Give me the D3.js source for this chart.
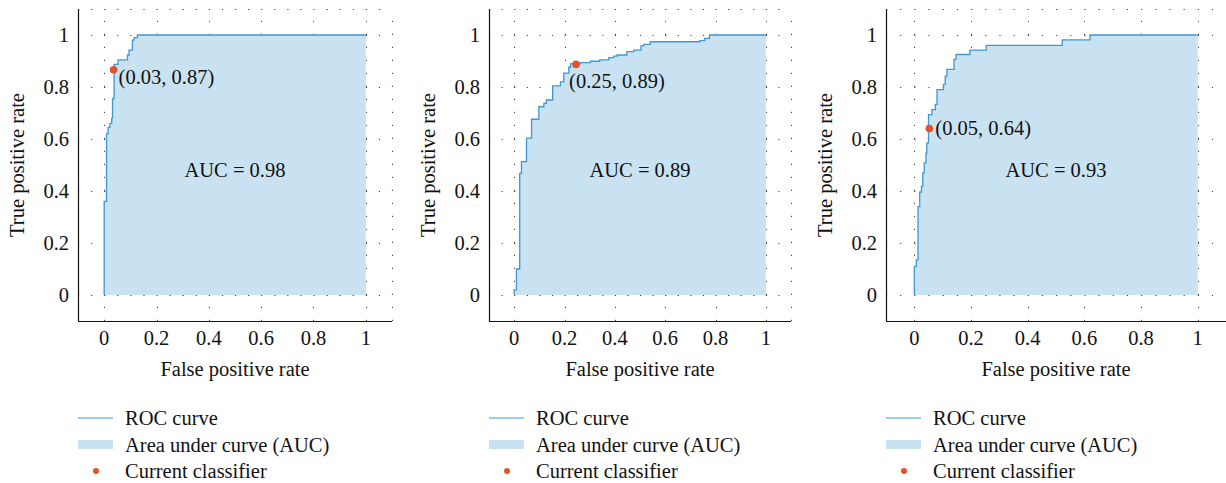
<!DOCTYPE html>
<html><head><meta charset="utf-8">
<script src="https://cdn.jsdelivr.net/npm/d3@7"></script>
<style>
html,body{margin:0;padding:0;background:#fff;}
svg{display:block;}
text{font-family:"Liberation Serif","Times New Roman",serif;fill:#111;}
</style></head>
<body>
<svg id="c" width="1226" height="483"></svg>
<script>
// ---- data ----
const fpr1 = [0, 0, 0.009, 0.015, 0.022, 0.029, 0.032, 0.038, 0.053, 0.089, 0.095, 0.108, 0.114, 0.127, 1];
const tpr1 = [0, 0.36, 0.62, 0.645, 0.66, 0.68, 0.755, 0.887, 0.904, 0.923, 0.942, 0.98, 0.99, 1, 1];

const fpr2 = [0, 0, 0.009, 0.022, 0.029, 0.049, 0.069, 0.098, 0.118, 0.128, 0.153, 0.184, 0.197, 0.217, 0.224, 0.263, 0.303, 0.34, 0.376, 0.396, 0.409, 0.448, 0.475, 0.504, 0.515, 0.541, 0.737, 0.757, 0.776, 1];
const tpr2 = [0, 0.02, 0.10, 0.468, 0.513, 0.603, 0.676, 0.724, 0.737, 0.75, 0.804, 0.82, 0.853, 0.876, 0.89, 0.894, 0.899, 0.904, 0.913, 0.919, 0.923, 0.936, 0.942, 0.958, 0.964, 0.974, 0.978, 0.987, 1, 1];

const fpr3 = [0, 0, 0.007, 0.013, 0.019, 0.025, 0.030, 0.035, 0.041, 0.044, 0.050, 0.062, 0.074, 0.080, 0.103, 0.109, 0.115, 0.140, 0.147, 0.196, 0.254, 0.522, 0.620, 1];
const tpr3 = [0, 0.11, 0.135, 0.34, 0.396, 0.418, 0.47, 0.508, 0.546, 0.585, 0.694, 0.713, 0.733, 0.79, 0.81, 0.842, 0.868, 0.906, 0.925, 0.942, 0.96, 0.981, 1, 1];

const aucValues = [0.98, 0.89, 0.93];
const classifierX = [0.036, 0.246, 0.053];
const classifierY = [0.866, 0.887, 0.64];
const classifierLabels = ["(0.03, 0.87)", "(0.25, 0.89)", "(0.05, 0.64)"];
const tickValues = [0, 0.2, 0.4, 0.6, 0.8, 1];
const tickLabels = ["0", "0.2", "0.4", "0.6", "0.8", "1"];
const legendLabels = ["ROC curve", "Area under curve (AUC)", "Current classifier"];
const xTitle = "False positive rate";
const yTitle = "True positive rate";

// ---- layout ----
const panels = [
  {fpr: fpr1, tpr: tpr1, x0: 78, x1: 392, lab: {dx: 5, dy: 14}},
  {fpr: fpr2, tpr: tpr2, x0: 489, x1: 791, lab: {dx: -7, dy: 24}},
  {fpr: fpr3, tpr: tpr3, x0: 886, x1: 1226, lab: {dx: 6, dy: 6}}
];
const yTop = 9, yBot = 321;
const lineColor = "#3f97d3", fillColor = "#c9e2f2", dotColor = "#e0532b";
const FS = 20.5;

const svg = d3.select("#c");

panels.forEach((p, i) => {
  const x = d3.scaleLinear().domain([-0.1, 1.1]).range([p.x0, p.x1]);
  const y = d3.scaleLinear().domain([-0.1, 1.1]).range([yBot, yTop]);
  const g = svg.append("g");
  const ux = x(0.05) - x(0);
  const uy = y(0) - y(0.05);

  // dotted grid
  const gridVals = tickValues.concat([1.1]);
  g.selectAll(".hg").data(gridVals).enter().append("line")
    .attr("x1", x(-0.1)).attr("x2", x(1.1))
    .attr("y1", d => Math.round(y(d)) + 0.5).attr("y2", d => Math.round(y(d)) + 0.5)
    .attr("stroke", "#444").attr("stroke-width", 1)
    .attr("stroke-dasharray", `1.2,${(ux - 1.2).toFixed(2)}`);
  g.selectAll(".vg").data(gridVals).enter().append("line")
    .attr("y1", y(-0.1)).attr("y2", y(1.1))
    .attr("x1", d => Math.round(x(d)) + 0.5).attr("x2", d => Math.round(x(d)) + 0.5)
    .attr("stroke", "#444").attr("stroke-width", 1)
    .attr("stroke-dasharray", `1.2,${(uy - 1.2).toFixed(2)}`);

  const pts = p.fpr.map((f, k) => [f, p.tpr[k]]);
  const area = d3.area().curve(d3.curveStepAfter)
    .x(d => x(d[0])).y0(y(0)).y1(d => y(d[1]));
  g.append("path").datum(pts).attr("d", area).attr("fill", fillColor);
  const line = d3.line().curve(d3.curveStepAfter).x(d => x(d[0])).y(d => y(d[1]));
  g.append("path").datum(pts).attr("d", line).attr("fill", "none")
    .attr("stroke", lineColor).attr("stroke-width", 1.3);

  // axes lines
  g.append("line").attr("x1", x(-0.1) + 0.5).attr("x2", x(-0.1) + 0.5)
    .attr("y1", y(1.1)).attr("y2", y(-0.1) + 0.5).attr("stroke", "#111").attr("stroke-width", 1.2);
  g.append("line").attr("x1", x(-0.1)).attr("x2", x(1.1))
    .attr("y1", y(-0.1) + 0.5).attr("y2", y(-0.1) + 0.5).attr("stroke", "#111").attr("stroke-width", 1.2);

  // tick labels
  g.selectAll(".yt").data(tickValues).enter().append("text")
    .attr("x", x(-0.1) - 9).attr("y", d => y(d)).attr("dy", "0.33em")
    .attr("text-anchor", "end").attr("font-size", FS).text((d, k) => tickLabels[k]);
  g.selectAll(".xt").data(tickValues).enter().append("text")
    .attr("x", d => x(d)).attr("y", 345)
    .attr("text-anchor", "middle").attr("font-size", FS).text((d, k) => tickLabels[k]);

  // axis titles
  g.append("text").attr("x", x(0.5)).attr("y", 376).attr("text-anchor", "middle")
    .attr("font-size", FS).text(xTitle);
  g.append("text").attr("transform", `translate(${x(-0.1) - 54},${y(0.5)}) rotate(-90)`)
    .attr("text-anchor", "middle").attr("font-size", FS).text(yTitle);

  // AUC text
  g.append("text").attr("x", x(0.5)).attr("y", y(0.48)).attr("dy", "0.33em")
    .attr("text-anchor", "middle").attr("font-size", FS).text("AUC = " + aucValues[i].toFixed(2));

  // classifier point
  const cx = x(classifierX[i]), cy = y(classifierY[i]);
  g.append("circle").attr("cx", cx).attr("cy", cy).attr("r", 3.8).attr("fill", dotColor);
  g.append("text").attr("x", cx + p.lab.dx).attr("y", cy + p.lab.dy)
    .attr("text-anchor", "start").attr("font-size", FS).text(classifierLabels[i]);

  // legend
  const lx = x(-0.1);
  const lg = g.append("g");
  lg.append("line").attr("x1", lx).attr("x2", lx + 35).attr("y1", 418).attr("y2", 418)
    .attr("stroke", lineColor).attr("stroke-width", 1.2);
  lg.append("rect").attr("x", lx).attr("y", 440).attr("width", 35).attr("height", 9)
    .attr("fill", fillColor);
  lg.append("circle").attr("cx", lx + 18).attr("cy", 471).attr("r", 3).attr("fill", dotColor);
  const ly = [424.5, 451.5, 477.5];
  legendLabels.forEach((t, k) => {
    lg.append("text").attr("x", lx + 47).attr("y", ly[k]).attr("font-size", FS).text(t);
  });
});
</script>
</body></html>
